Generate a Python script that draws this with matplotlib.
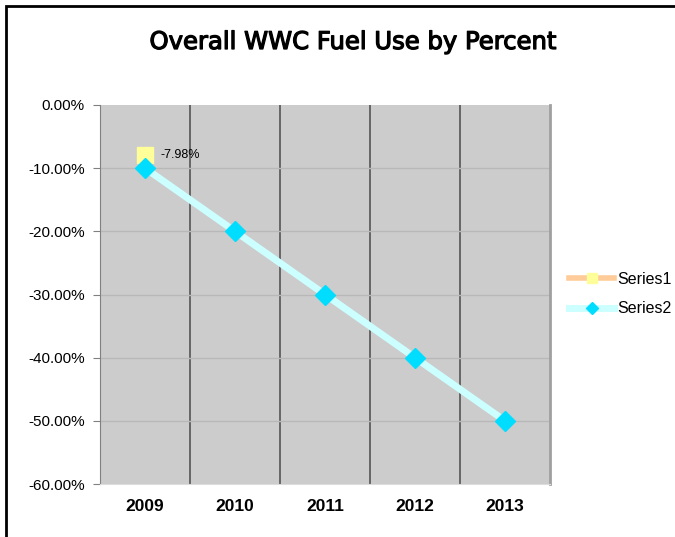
import matplotlib
matplotlib.use("Agg")
from matplotlib import pyplot as plt
from matplotlib.patches import Rectangle
import matplotlib.patheffects as pe

plt.rcParams['font.family'] = ['Liberation Sans', 'DejaVu Sans']

years = ["2009", "2010", "2011", "2012", "2013"]
series1 = [-7.98]
series2 = [-10, -20, -30, -40, -50]
y_ticks = [0, -10, -20, -30, -40, -50, -60]

fig = plt.figure(figsize=(6.75, 5.37), dpi=100)

# outer chart border (cut off at right and bottom)
fig.patches.append(Rectangle((6 / 675, -0.1), 1.2, 1 - 6 / 537 + 0.1, transform=fig.transFigure,
                             fill=False, edgecolor="black", linewidth=2))

ax = fig.add_axes([100 / 675, 1 - 484 / 537, 450 / 675, 379 / 537])
ax.set_facecolor("#cccccc")

x = list(range(len(years)))
ax.set_xlim(-0.5, len(years) - 0.5)
ax.set_ylim(-60, 0)

# category separators and horizontal grid
for b in range(1, len(years)):
    ax.axvline(b - 0.5, color="#555555", linewidth=1.2, zorder=1)
for t in y_ticks[1:-1]:
    ax.axhline(t, color="#b8b8b8", linewidth=1, zorder=1)

ax.plot(x[:len(series1)], series1, color="#ffcc99", linewidth=4, marker="s", markersize=11,
        markerfacecolor="#ffff99", markeredgecolor="#ffff99", label="Series1", zorder=3)
ax.plot(x, series2, color="#ccffff", linewidth=5, marker="D", markersize=10,
        markerfacecolor="#00ddff", markeredgecolor="#00ddff", label="Series2", zorder=4)
ax.annotate("%.2f%%" % series1[0], (x[0], series1[0]), xytext=(11, 0), textcoords="offset points",
            fontsize=9, va="center", zorder=5)

ax.set_xticks(x)
ax.set_xticklabels(years, fontweight="bold", fontsize=12.5)
ax.set_yticks(y_ticks)
ax.set_yticklabels(["%.2f%%" % t for t in y_ticks], fontsize=11)
ax.tick_params(axis="x", length=0, pad=11)
ax.tick_params(axis="y", length=5, color="#808080", pad=6)

ax.spines["top"].set_visible(False)
ax.spines["left"].set_color("#808080")
ax.spines["bottom"].set_color("#dddddd")
ax.spines["right"].set_color("#a0a0a0")
ax.spines["right"].set_linewidth(2)

fig.text(353 / 675, 1 - 42 / 537, "Overall WWC Fuel Use by Percent", ha="center", va="center",
         fontsize=17.5, family=["DejaVu Sans"],
         path_effects=[pe.withStroke(linewidth=0.9, foreground="black")])

fig.legend(loc="center left", bbox_to_anchor=(555 / 675, 1 - 294 / 537), frameon=False,
           fontsize=11.5, handlelength=2.8, labelspacing=0.9, handletextpad=0.2, markerscale=0.6)

fig.savefig("out.png", dpi=100)
